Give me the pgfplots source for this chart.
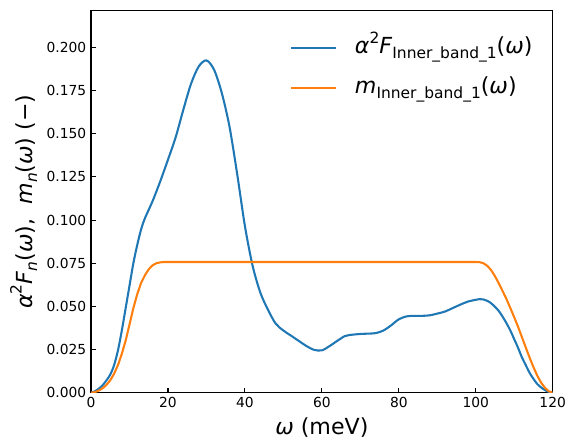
\documentclass[border=0pt]{standalone}
\usepackage{fontspec}
\setmainfont{DejaVu Sans}
\usepackage{pgfplots}
\pgfplotsset{compat=1.18}
\definecolor{mplblue}{HTML}{1F77B4}
\definecolor{mplorange}{HTML}{FF7F0E}
\newcommand{\sups}[1]{\raisebox{0.48em}{\fontsize{11.2}{12}\selectfont #1}}
\newcommand{\subs}[1]{\raisebox{-0.22em}{\fontsize{11.2}{12}\selectfont #1}}
\begin{document}
\begin{tikzpicture}
\begin{axis}[
  scale only axis,
  width=334pt, height=276.5pt,
  xmin=0, xmax=120, ymin=0, ymax=0.2214,
  xtick={0,20,40,60,80,100,120},
  ytick={0,0.025,0.05,0.075,0.1,0.125,0.15,0.175,0.2},
  scaled y ticks=false,
  yticklabel style={/pgf/number format/.cd, fixed, precision=3, fixed zerofill},
  /pgf/number format/assume math mode=true,
  ticklabel style={font=\fontsize{10}{12}\selectfont},
  tick align=inside, tick pos=left,
  major tick length=3.5pt,
  every tick/.style={black, line width=0.8pt},
  axis line style={line width=0.8pt},
  label style={font=\fontsize{16}{19}\selectfont},
  xlabel={\textit{ω} (meV)},
  ylabel={\textit{α}\sups{2}\textit{F}\subs{\textit{n}}(\textit{ω}),\ \ \textit{m}\subs{\textit{n}}(\textit{ω}) (−)},
  legend style={draw=none, fill=none, at={(1,1)}, anchor=north east,
    xshift=-14.4pt, yshift=-19pt, inner sep=0pt,
    font=\fontsize{16}{19}\selectfont, row sep=12.8pt, column sep=13pt,
    nodes={inner sep=0pt, text height=12pt, text depth=4pt}},
  legend cell align=left,
  legend image code/.code={\draw[#1] (0pt,0pt) -- (32.4pt,0pt);},
]
\addplot[mplblue, line width=1.5pt, smooth] coordinates {
(0,0) (1,0.0008) (2,0.0023) (3,0.0043) (4,0.0071) (5,0.0105) (6,0.016) (7,0.0245)
(8,0.036) (9,0.049) (10,0.062) (11,0.075) (12,0.0855) (13,0.0945) (14,0.101)
(16,0.111) (18,0.1225) (20,0.135) (22,0.148) (24,0.164) (26,0.179) (28,0.189)
(30,0.1925) (32,0.187) (34,0.1735) (36,0.154) (38,0.1265) (40,0.0965)
(42,0.0735) (44,0.058) (46,0.048) (48,0.040) (50,0.036) (52,0.033)
(54,0.030) (56,0.027) (58,0.0248) (60,0.0245) (62,0.027) (64,0.030) (66,0.0328)
(68,0.0336) (70,0.034) (72,0.0342) (74,0.0345) (76,0.036) (78,0.039) (80,0.0425)
(82,0.0442) (84,0.0445) (86,0.0445) (88,0.0448) (90,0.0458) (92,0.047) (94,0.049)
(96,0.051) (98,0.0528) (100,0.0538) (101,0.0542) (102,0.054) (103,0.0532)
(104,0.0518) (105,0.0497) (106,0.0473) (107,0.0440) (108,0.0402) (109,0.036)
(110,0.031) (111,0.026) (112,0.0205) (113,0.016) (114,0.0115) (115,0.008)
(116,0.005) (117,0.003) (118,0.0015) (119,0.0004) (120,0)
};
\addlegendentry{\textit{α}\sups{2}\textit{F}\subs{Inner\_band\_1}(\textit{ω})}
\addplot[mplorange, line width=1.5pt, line join=round] coordinates {
(0,0) (1,0.0003) (2,0.0012) (3,0.0025) (4,0.0045) (5,0.0072) (6,0.011) (7,0.016)
(8,0.0225) (9,0.0302) (10,0.0395) (11,0.049) (12,0.057) (13,0.0635) (14,0.068)
(15,0.0715) (16,0.0738) (17,0.075) (18,0.0755) (19,0.0757) (20,0.0757)
(100,0.0757) (101,0.0756) (102,0.0750) (103,0.0735) (104,0.071) (105,0.0675)
(106,0.0633) (107,0.0588) (108,0.0542) (109,0.049) (110,0.0437) (111,0.0382)
(112,0.0322) (113,0.0262) (114,0.0203) (115,0.0148) (116,0.0098) (117,0.0058)
(118,0.0028) (119,0.0008) (120,0)
};
\addlegendentry{\textit{m}\subs{Inner\_band\_1}(\textit{ω})}
\end{axis}
\path (current bounding box.south west) ++(-4pt,-4pt);
\path (current bounding box.north east) ++(4pt,7.2pt);
\end{tikzpicture}
\end{document}
